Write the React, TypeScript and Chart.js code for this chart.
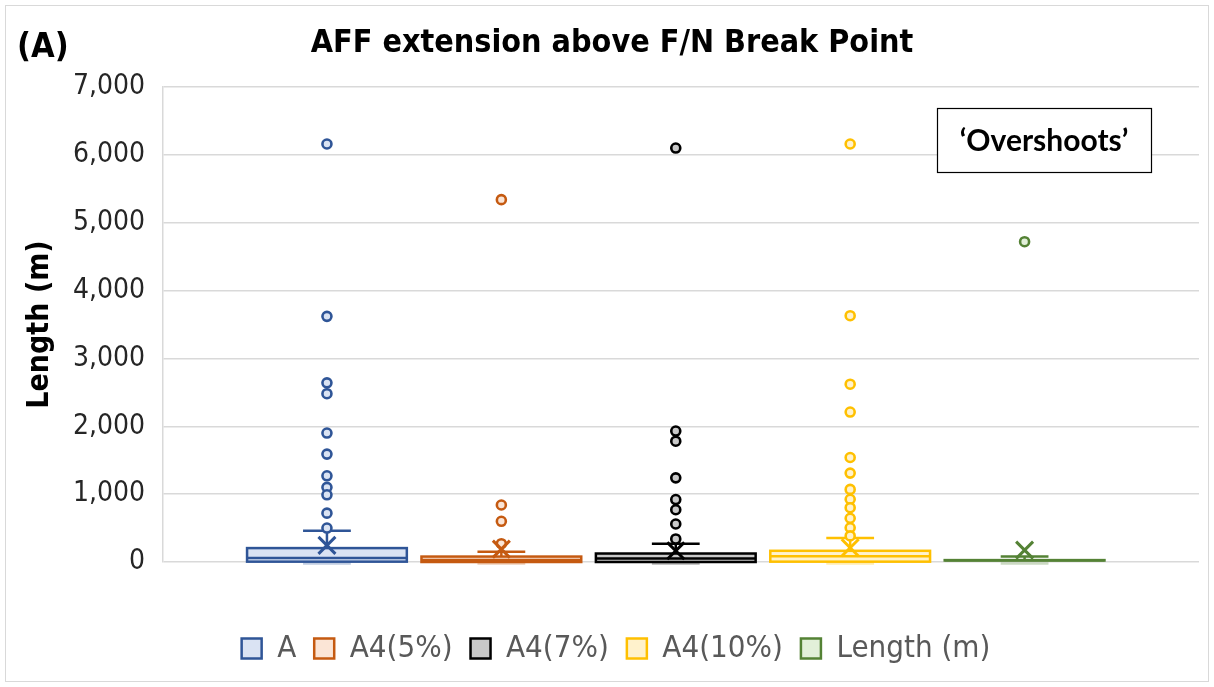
import React, { useEffect, useRef } from 'react';
import { Chart, registerables } from 'chart.js';

Chart.register(...registerables);

// ---------- data ----------
const SERIES_NAMES = ['A', 'A4(5%)', 'A4(7%)', 'A4(10%)', 'Length (m)'];
const SERIES_COLORS = ['#2F5597', '#C55A11', '#000000', '#FFC000', '#548235'];
const SERIES_FILLS = ['#DAE3F3', '#FBE5D6', '#C9C9C9', '#FFF2CC', '#E2F0D9'];

const WHISKER_LOW = [0, 0, 0, 0, 0];
const Q1 = [5, 0, 0, 5, 22];
const MEDIAN = [60, 30, 50, 85, 25];
const Q3 = [205, 80, 125, 165, 28];
const WHISKER_HIGH = [460, 150, 270, 355, 80];
const MEAN = [245, 190, 165, 210, 175];

const OUTLIERS_A = [6160, 3620, 2640, 2480, 1900, 1590, 1270, 1100, 990, 720, 500];
const OUTLIERS_A4_5 = [5340, 840, 600, 270];
const OUTLIERS_A4_7 = [6100, 1930, 1780, 1240, 920, 770, 560, 340];
const OUTLIERS_A4_10 = [6160, 3630, 2620, 2210, 1540, 1310, 1070, 925, 800, 645, 505, 385];
const OUTLIERS_LENGTH = [4720];
const OUTLIERS = [OUTLIERS_A, OUTLIERS_A4_5, OUTLIERS_A4_7, OUTLIERS_A4_10, OUTLIERS_LENGTH];

const Y_TICKS = [0, 1000, 2000, 3000, 4000, 5000, 6000, 7000];

const TITLE = 'AFF extension above F/N Break Point';
const PANEL_LABEL = '(A)';
const Y_TITLE = 'Length (m)';
const NOTE = '\u2018Overshoots\u2019';

// ---------- styling ----------
const FONT = "'DejaVu Sans Condensed', 'DejaVu Sans', sans-serif";
const BOX_HALF = 0.458; // half box width in x-units (one unit per series)
const CAP_HALF = 0.137;
const X_MIN = 0.06;
const X_MAX = 6.0;

const boxPlugin = {
  id: 'boxes',
  beforeDatasetsDraw(chart: any) {
    const { ctx } = chart;
    const xs = chart.scales.x;
    const ys = chart.scales.y;
    for (let i = 0; i < SERIES_NAMES.length; i++) {
      const cx = xs.getPixelForValue(i + 1);
      const l = xs.getPixelForValue(i + 1 - BOX_HALF);
      const r = xs.getPixelForValue(i + 1 + BOX_HALF);
      const cl = xs.getPixelForValue(i + 1 - CAP_HALF);
      const cr = xs.getPixelForValue(i + 1 + CAP_HALF);
      const yq1 = ys.getPixelForValue(Q1[i]);
      const yq3 = ys.getPixelForValue(Q3[i]);
      const ymed = ys.getPixelForValue(MEDIAN[i]);
      const yhi = ys.getPixelForValue(WHISKER_HIGH[i]);
      const ylo = ys.getPixelForValue(WHISKER_LOW[i]);
      ctx.save();
      ctx.lineWidth = 2.5;
      // lower cap (faint)
      ctx.strokeStyle = SERIES_COLORS[i];
      ctx.globalAlpha = 0.3;
      ctx.beginPath();
      ctx.moveTo(cl, ylo + 1.5);
      ctx.lineTo(cr, ylo + 1.5);
      ctx.stroke();
      ctx.globalAlpha = 1;
      // whisker
      ctx.beginPath();
      ctx.moveTo(cx, yq3);
      ctx.lineTo(cx, yhi);
      ctx.moveTo(cl, yhi);
      ctx.lineTo(cr, yhi);
      ctx.stroke();
      // box
      ctx.fillStyle = SERIES_FILLS[i];
      ctx.fillRect(l, yq3, r - l, yq1 - yq3);
      ctx.strokeRect(l, yq3, r - l, yq1 - yq3);
      ctx.beginPath();
      ctx.moveTo(l, ymed);
      ctx.lineTo(r, ymed);
      ctx.stroke();
      ctx.restore();
    }
  },
  afterDraw(chart: any) {
    const { ctx } = chart;
    ctx.save();
    // outer chart border
    ctx.strokeStyle = '#D9D9D9';
    ctx.lineWidth = 1;
    ctx.strokeRect(5.5, 5.5, 1203, 676);
    // title & panel label
    ctx.fillStyle = '#000';
    ctx.textBaseline = 'alphabetic';
    ctx.textAlign = 'center';
    ctx.font = `bold 32px ${FONT}`;
    ctx.fillText(TITLE, 612, 52);
    ctx.textAlign = 'left';
    ctx.font = `bold 34px ${FONT}`;
    ctx.fillText(PANEL_LABEL, 17, 57);
    // note box
    ctx.fillStyle = '#fff';
    ctx.fillRect(937, 108, 214, 64);
    ctx.strokeStyle = '#000';
    ctx.lineWidth = 1.2;
    ctx.strokeRect(937.5, 108.5, 214, 64);
    ctx.fillStyle = '#000';
    ctx.textAlign = 'center';
    ctx.textBaseline = 'middle';
    ctx.font = `bold 30px Lato, 'Open Sans', sans-serif`;
    ctx.fillText(NOTE, 1044, 141);
    ctx.restore();
  },
};

export default function App() {
  const ref = useRef<HTMLCanvasElement | null>(null);
  useEffect(() => {
    if (!ref.current) return;
    const outlierSets = OUTLIERS.map((vals, i) => ({
      label: SERIES_NAMES[i],
      data: vals.map((v) => ({ x: i + 1, y: v })),
      pointStyle: 'circle',
      pointRadius: 4.5,
      pointHoverRadius: 4.5,
      borderWidth: 2.6,
      borderColor: SERIES_COLORS[i],
      backgroundColor: SERIES_FILLS[i],
    }));
    const meanSets = MEAN.map((m, i) => ({
      label: SERIES_NAMES[i] + ' mean',
      data: [{ x: i + 1, y: m }],
      pointStyle: 'crossRot',
      pointRadius: 12,
      pointHoverRadius: 12,
      borderWidth: 3,
      borderColor: SERIES_COLORS[i],
      backgroundColor: SERIES_COLORS[i],
    }));
    const chart = new Chart(ref.current, {
      type: 'scatter',
      data: { datasets: [...meanSets, ...outlierSets] as any },
      options: {
        animation: false,
        responsive: false,
        layout: { padding: { top: 87, right: 13, bottom: 13, left: 31 } },
        plugins: {
          title: { display: false },
          tooltip: { enabled: false },
          legend: {
            position: 'bottom',
            labels: {
              boxWidth: 20,
              boxHeight: 20,
              padding: 18,
              color: '#595959',
              font: { family: FONT, size: 31 },
              generateLabels: () =>
                SERIES_NAMES.map((name, i) => ({
                  text: name,
                  fillStyle: SERIES_FILLS[i],
                  strokeStyle: SERIES_COLORS[i],
                  lineWidth: 2.5,
                  hidden: false,
                  fontColor: '#595959',
                  datasetIndex: MEAN.length + i,
                })),
            },
          },
        },
        scales: {
          x: {
            type: 'linear',
            min: X_MIN,
            max: X_MAX,
            display: true,
            grid: { display: false },
            border: { display: false },
            ticks: { display: false },
            afterFit: (s: any) => {
              s.height = 53;
            },
          },
          y: {
            min: 0,
            max: 7000,
            afterBuildTicks: (s: any) => {
              s.ticks = Y_TICKS.map((v) => ({ value: v }));
            },
            grid: { color: '#D9D9D9', lineWidth: 1.5, drawTicks: false },
            border: { display: true, color: '#D9D9D9', width: 1.5 },
            ticks: {
              padding: 18,
              color: '#262626',
              font: { family: FONT, size: 28 },
              callback: (v: any) => Number(v).toLocaleString('en-US'),
            },
            title: {
              display: true,
              text: Y_TITLE,
              color: '#000',
              font: { family: FONT, size: 30, weight: 'bold' },
              padding: { top: -9, bottom: 0 },
            },
            afterFit: (s: any) => {
              s.width = 132;
            },
          },
        },
      },
      plugins: [boxPlugin],
    });
    return () => chart.destroy();
  }, []);
  return (
    <div style={{ position: 'fixed', left: 0, top: 0, width: 1214, height: 687, background: '#fff' }}>
      <canvas ref={ref} width={1214} height={687} style={{ display: 'block' }} />
    </div>
  );
}
